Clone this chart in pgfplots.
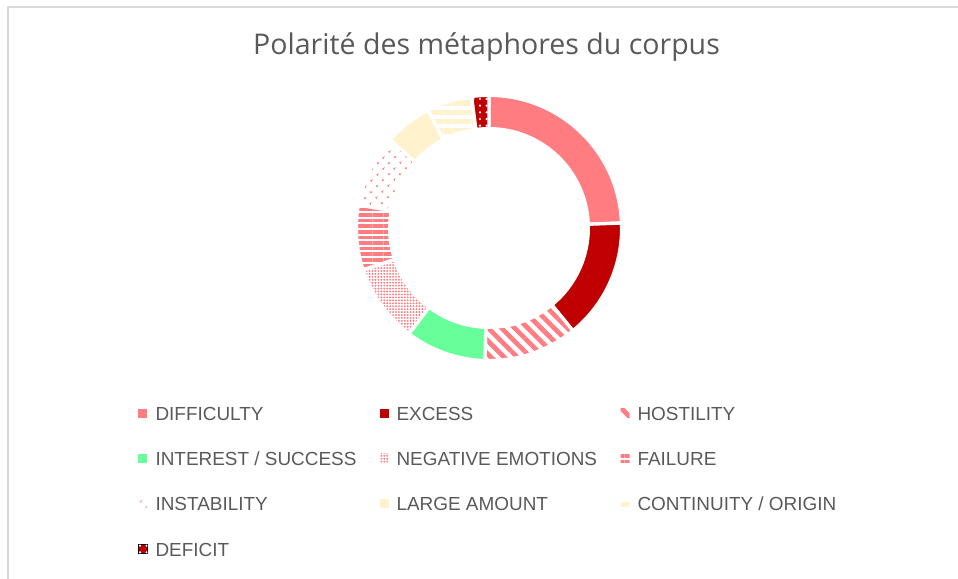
\documentclass[border=0pt]{standalone}
\usepackage{fontspec}
\setmainfont{Liberation Sans}
\newfontfamily\titlefont{Open Sans}
\usepackage{pgfplots}
\pgfplotsset{compat=1.18}
\usepackage{pgfplotstable}
\usetikzlibrary{patterns.meta}

\definecolor{cDiff}{HTML}{FF7C80}
\definecolor{cExc}{HTML}{C00000}
\definecolor{cInt}{HTML}{66FF99}
\definecolor{cLarge}{HTML}{FFF2CC}
\definecolor{cText}{HTML}{595959}
\definecolor{cFrame}{HTML}{D9D9D9}

% share of each category (percent), clockwise from 12 o'clock
\pgfplotstableread[col sep=comma]{
label,value
DIFFICULTY,24.4
EXCESS,14.7
HOSTILITY,11.4
INTEREST / SUCCESS,9.8
NEGATIVE EMOTIONS,9.6
FAILURE,7.9
INSTABILITY,8.8
LARGE AMOUNT,5.8
CONTINUITY / ORIGIN,5.5
DEFICIT,2.1
}\slices

\tikzset{
  sDiff/.style={fill=cDiff},
  sExc/.style={fill=cExc},
  sHost/.style={pattern={Lines[angle=-45,distance=7pt,line width=3.5pt]},pattern color=cDiff},
  sInt/.style={fill=cInt},
  sNeg/.style={pattern={Dots[distance=2.2pt,radius=0.8pt]},pattern color=cDiff},
  sFail/.style={pattern={Lines[angle=0,distance=4.2pt,line width=2.7pt]},pattern color=cDiff},
  sInst/.style={pattern={Dots[distance=6.5pt,radius=1.05pt,angle=45]},pattern color=cDiff},
  sLarge/.style={fill=cLarge},
  sCont/.style={pattern={Lines[angle=0,distance=7pt,line width=4pt]},pattern color=cLarge},
  sDef/.style={preaction={fill=cExc},pattern={Dots[distance=5pt,radius=0.9pt]},pattern color=white},
}

\def\Ro{99.5pt}
\def\Ri{74.5pt}
\newcommand\slice[2]{%
  \filldraw[#2,draw=white,line width=2.5pt]
    (axis cs:0,0) ++({\csname sa#1\endcsname}:\Ro)
    arc[start angle={\csname sa#1\endcsname},end angle={\csname ea#1\endcsname},radius=\Ro]
    -- ++({\csname ea#1\endcsname}:{\Ri-\Ro})
    arc[start angle={\csname ea#1\endcsname},end angle={\csname sa#1\endcsname},radius=\Ri]
    -- cycle;}

\begin{document}
\begin{tikzpicture}
\useasboundingbox (0,0) rectangle (718.5pt,434.25pt);

% cumulative angles and labels from the table
\xdef\cum{0}
\foreach \i in {0,...,9}{
  \pgfplotstablegetelem{\i}{value}\of\slices
  \let\val\pgfplotsretval
  \pgfmathsetmacro\angS{90-3.6*\cum}
  \pgfmathsetmacro\newcum{\cum+\val}
  \xdef\cum{\newcum}
  \pgfmathsetmacro\angE{90-3.6*\cum}
  \expandafter\xdef\csname sa\i\endcsname{\angS}
  \expandafter\xdef\csname ea\i\endcsname{\angE}
  \pgfplotstablegetelem{\i}{label}\of\slices
  \expandafter\xdef\csname lab\i\endcsname{\pgfplotsretval}
}

\draw[cFrame,line width=1.5pt] (5.85pt,0) -- (5.85pt,429.2pt) -- (718.5pt,429.2pt);

\node[font=\titlefont\fontsize{21.4}{25}\selectfont,text=cText,anchor=base]
  at (364.9pt,393pt) {Polarité des métaphores du corpus};

\begin{axis}[
  at={(366.75pt,263.25pt)},anchor=center,
  width=196.5pt,height=196.5pt,scale only axis,
  xmin=-1,xmax=1,ymin=-1,ymax=1,
  hide axis,clip=false,
  legend columns=3,
  legend cell align=left,
  legend image code/.code={\path[#1,draw=none] (0pt,-3.375pt) rectangle (6.75pt,3.375pt);},
  legend style={draw=none,fill=none,
    at={(axis description cs:-0.8397,-0.1794)},anchor=north west,
    inner sep=0pt,outer sep=0pt,row sep=23.5pt,
    font=\fontsize{14.2}{16}\selectfont,text=cText,
    nodes={inner sep=0pt,text height=10.5pt,text depth=0pt},
    /tikz/every odd column/.style={column sep=6pt},
    /tikz/every even column/.style={column sep=0pt}},
]
\slice{0}{sDiff}
\slice{1}{sExc}
\slice{2}{sHost}
\slice{3}{sInt}
\slice{4}{sNeg}
\slice{5}{sFail}
\slice{6}{sInst}
\slice{7}{sLarge}
\slice{8}{sCont}
\slice{9}{sDef}

\addlegendimage{sDiff}  \addlegendentry{\makebox[168pt][l]{\csname lab0\endcsname}}
\addlegendimage{sExc}   \addlegendentry{\makebox[168pt][l]{\csname lab1\endcsname}}
\addlegendimage{sHost}  \addlegendentry{\csname lab2\endcsname}
\addlegendimage{sInt}   \addlegendentry{\makebox[168pt][l]{\csname lab3\endcsname}}
\addlegendimage{sNeg}   \addlegendentry{\makebox[168pt][l]{\csname lab4\endcsname}}
\addlegendimage{sFail}  \addlegendentry{\csname lab5\endcsname}
\addlegendimage{sInst}  \addlegendentry{\makebox[168pt][l]{\csname lab6\endcsname}}
\addlegendimage{sLarge} \addlegendentry{\makebox[168pt][l]{\csname lab7\endcsname}}
\addlegendimage{sCont}  \addlegendentry{\csname lab8\endcsname}
\addlegendimage{sDef}   \addlegendentry{\csname lab9\endcsname}
\end{axis}
\end{tikzpicture}
\end{document}
